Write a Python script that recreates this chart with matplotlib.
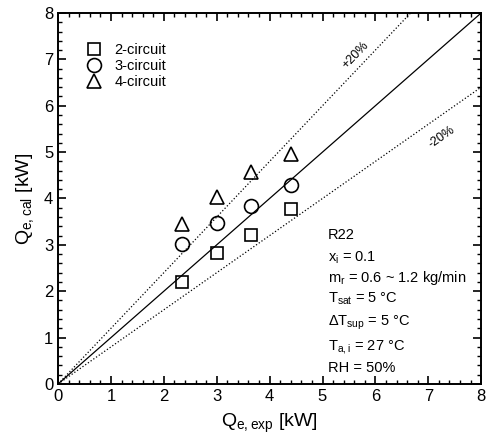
import numpy as np
import matplotlib.pyplot as plt
from matplotlib.ticker import MultipleLocator

plt.rcParams['font.family'] = ['Liberation Sans', 'DejaVu Sans']
plt.rcParams['mathtext.default'] = 'regular'

# data
q_exp = [2.35, 3.0, 3.65, 4.4]
q2 = [2.2, 2.83, 3.22, 3.78]
q3 = [3.02, 3.48, 3.83, 4.3]
q4 = [3.45, 4.03, 4.58, 4.95]
labels = ['2-circuit', '3-circuit', '4-circuit']
markers = ['s', 'o', '^']

fig = plt.figure(figsize=(4.88, 4.47), dpi=100)
ax = fig.add_axes([0.119, 0.141, 0.867, 0.830])

x = np.array([0, 8])
ax.plot(x, x, 'k-', lw=0.9)
ax.plot(x, 1.2*x, 'k:', lw=0.9)
ax.plot(x, 0.8*x, 'k:', lw=0.9)

for ys, m, lab in zip([q2, q3, q4], markers, labels):
    ax.plot(q_exp, ys, m, ms=10 if m != 's' else 9, mfc='none', mec='k',
            mew=1.2, ls='none', label=lab)

ax.legend(loc='upper left', bbox_to_anchor=(0.03, 0.95), frameon=False,
          fontsize=10.5, handletextpad=0.6, handlelength=1.6,
          labelspacing=0.12, borderpad=0.3)

ax.text(5.63, 7.1, '+20%', rotation=46, ha='center', va='center', fontsize=9)
ax.text(7.25, 5.33, '-20%', rotation=35, ha='center', va='center', fontsize=9)

info = [('R22', 235), (r'x$_{i}$ = 0.1', 258), (r'm$_{r}$ = 0.6 ~ 1.2 kg/min', 278),
        (r'T$_{sat}$ = 5 °C', 299), (r'$\Delta$T$_{sup}$ = 5 °C', 323),
        (r'T$_{a,i}$ = 27 °C', 347), ('RH = 50%', 368)]
for s, py in info:
    ax.text(5.1, (384 - py) / 46.4, s, fontsize=10.5, va='center', ha='left')

ax.set_xlim(0, 8)
ax.set_ylim(0, 8)
ax.xaxis.set_major_locator(MultipleLocator(1))
ax.yaxis.set_major_locator(MultipleLocator(1))
ax.xaxis.set_minor_locator(MultipleLocator(0.2))
ax.yaxis.set_minor_locator(MultipleLocator(0.2))
ax.tick_params(which='both', direction='in', top=True, right=True, labelsize=12)
ax.tick_params(which='major', length=6, width=1.2)
ax.tick_params(which='minor', length=3, width=1)
for sp in ax.spines.values():
    sp.set_linewidth(1.4)

ax.set_xlabel(r'Q$_{e,exp}$ [kW]', fontsize=14, labelpad=6)
ax.set_ylabel(r'Q$_{e,cal}$ [kW]', fontsize=14, labelpad=6)

fig.savefig('out.png', dpi=100)
